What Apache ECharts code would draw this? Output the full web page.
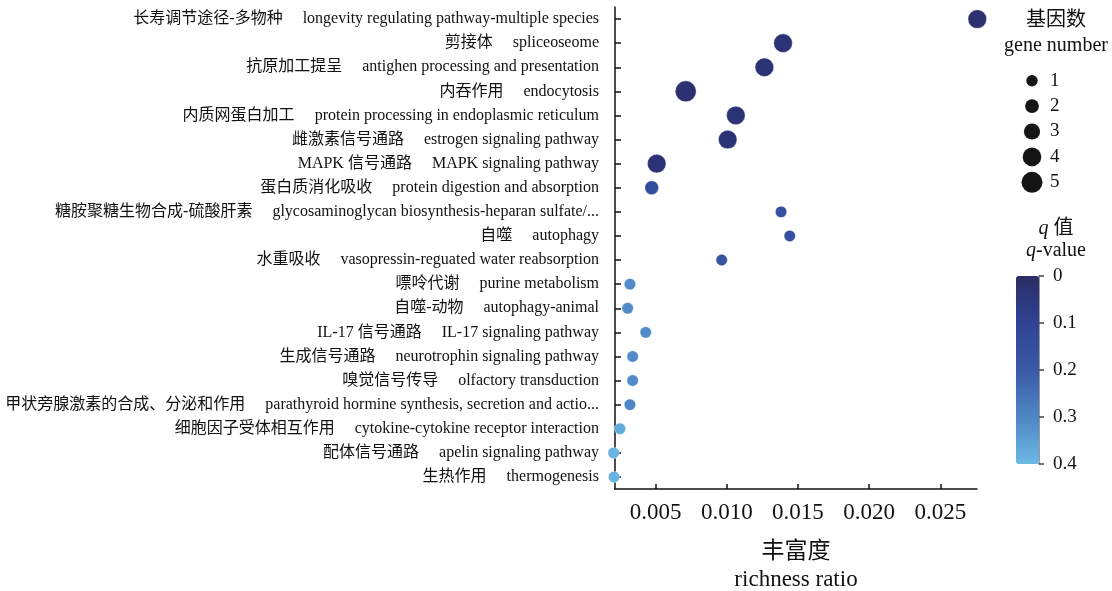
<!DOCTYPE html>
<html>
<head>
<meta charset="utf-8">
<script src="https://cdn.jsdelivr.net/npm/echarts@6/dist/echarts.min.js"></script>
<style>
html,body{margin:0;padding:0;background:#fff;}
#chart{width:1112px;height:591px;}
</style>
</head>
<body>
<div id="chart"></div>
<script>
const pathwaysCn = ['长寿调节途径-多物种','剪接体','抗原加工提呈','内吞作用','内质网蛋白加工','雌激素信号通路','MAPK 信号通路','蛋白质消化吸收','糖胺聚糖生物合成-硫酸肝素','自噬','水重吸收','嘌呤代谢','自噬-动物','IL-17 信号通路','生成信号通路','嗅觉信号传导','甲状旁腺激素的合成、分泌和作用','细胞因子受体相互作用','配体信号通路','生热作用'];
const pathwaysEn = ['longevity regulating pathway-multiple species','spliceoseome','antighen processing and presentation','endocytosis','protein processing in endoplasmic reticulum','estrogen signaling pathway','MAPK signaling pathway','protein digestion and absorption','glycosaminoglycan biosynthesis-heparan sulfate/...','autophagy','vasopressin-reguated water reabsorption','purine metabolism','autophagy-animal','IL-17 signaling pathway','neurotrophin signaling pathway','olfactory transduction','parathyroid hormine synthesis, secretion and actio...','cytokine-cytokine receptor interaction','apelin signaling pathway','thermogenesis'];
const richness = [0.0276,0.01395,0.01264,0.00711,0.01063,0.01006,0.00507,0.00472,0.01381,0.01442,0.00964,0.00319,0.00303,0.0043,0.00338,0.00338,0.00319,0.00249,0.00204,0.00207];
const qValues = [0.02,0.03,0.03,0.02,0.03,0.03,0.03,0.14,0.16,0.16,0.17,0.31,0.31,0.31,0.31,0.31,0.30,0.37,0.39,0.39];
const geneNumbers = [4,4,4,5,4,4,4,2,1,1,1,1,1,1,1,1,1,1,1,1];
const geneLegend = [1,2,3,4,5];
const qTicks = [0,0.1,0.2,0.3,0.4];

const FONT = "'Liberation Serif','Noto Sans CJK SC',serif";
const sizeOf = n => 9 + 2.4 * n;

const chart = echarts.init(document.getElementById('chart'));
const mainData = pathwaysEn.map((en, i) => [richness[i], i, qValues[i], geneNumbers[i]]);

chart.setOption({
  animation: false,
  backgroundColor: '#fff',
  grid: [
    {left: 615, top: 7, right: 135, bottom: 102, outerBoundsMode: 'none', containLabel: false},
    {left: 1039, top: 276, width: 0, height: 188, outerBoundsMode: 'none', containLabel: false},
    {left: 1022, top: 68, width: 20, height: 127, outerBoundsMode: 'none', containLabel: false}
  ],
  xAxis: [
    {
      type: 'value', gridIndex: 0,
      min: 0.00214, max: 0.02758, splitNumber: 5,
      splitLine: {show: false},
      axisLine: {show: true, lineStyle: {color: '#111', width: 1.5}},
      axisTick: {show: true, inside: true, length: 5, lineStyle: {color: '#111', width: 1.5}},
      axisLabel: {
        showMinLabel: false, showMaxLabel: false, margin: 12,
        fontFamily: FONT, fontSize: 23, color: '#111',
        formatter: v => v.toFixed(3)
      },
      name: '丰富度\nrichness ratio',
      nameLocation: 'middle', nameGap: 49,
      nameTextStyle: {fontFamily: FONT, fontSize: 23, color: '#111', lineHeight: 28}
    },
    {type: 'value', gridIndex: 1, show: false, min: 0, max: 1},
    {type: 'category', gridIndex: 2, show: false, data: ['']}
  ],
  yAxis: [
    {
      type: 'category', gridIndex: 0, inverse: true,
      data: pathwaysEn.map((en, i) => i),
      axisLine: {show: true, lineStyle: {color: '#111', width: 1.5}},
      axisTick: {show: true, inside: true, length: 6, alignWithLabel: true, lineStyle: {color: '#111', width: 1.5}},
      axisLabel: {
        margin: 16, fontFamily: FONT, fontSize: 16, color: '#111',
        formatter: (v) => pathwaysCn[+v] + '     ' + pathwaysEn[+v]
      },
      splitLine: {show: false}
    },
    {
      type: 'value', gridIndex: 1, position: 'right', inverse: true,
      min: 0, max: 0.4, interval: 0.1,
      splitLine: {show: false},
      axisLine: {show: true, lineStyle: {color: '#777', width: 1.5}},
      axisTick: {show: true, length: 5, lineStyle: {color: '#444', width: 1.5}},
      axisLabel: {margin: 14, fontFamily: FONT, fontSize: 19, color: '#111',
        formatter: v => qTicks.includes(+v.toFixed(1)) ? String(+v.toFixed(1)) : ''}
    },
    {
      type: 'category', gridIndex: 2, position: 'right', inverse: true,
      data: geneLegend.map(String),
      axisLine: {show: false}, axisTick: {show: false},
      axisLabel: {margin: 8, fontFamily: FONT, fontSize: 19, color: '#111'}
    }
  ],
  visualMap: {
    type: 'continuous', seriesIndex: 0, dimension: 2,
    min: 0, max: 0.4, inverse: true, calculable: false,
    orient: 'vertical', left: 1016, top: 276, padding: 0,
    itemWidth: 23, itemHeight: 188, text: null, showLabel: false,
    inRange: {color: ['#2b2d66', '#2f4293', '#3a5aa7', '#4f86c4', '#6cb9e5']}
  },
  series: [
    {
      type: 'scatter', xAxisIndex: 0, yAxisIndex: 0, clip: false,
      data: mainData,
      symbolSize: d => sizeOf(d[3]),
      itemStyle: {opacity: 1, borderColor: 'rgba(255,255,255,0.35)', borderWidth: 1}
    },
    {
      type: 'scatter', xAxisIndex: 2, yAxisIndex: 2,
      data: geneLegend.map(n => ['', String(n), n]),
      symbolSize: d => sizeOf(d[2]),
      itemStyle: {color: '#151515', opacity: 1}
    }
  ],
  graphic: [
    {type: 'text', x: 1056, y: 21, style: {text: '基因数', font: '20px ' + FONT, fill: '#111', align: 'center', verticalAlign: 'middle'}},
    {type: 'text', x: 1056, y: 46, style: {text: 'gene number', font: '20px ' + FONT, fill: '#111', align: 'center', verticalAlign: 'middle'}},
    {type: 'text', x: 1056, y: 229, style: {text: '{i|q} 值', font: '20px ' + FONT, fill: '#111', align: 'center', verticalAlign: 'middle',
      rich: {i: {fontStyle: 'italic', fontSize: 20, fontFamily: 'Liberation Serif'}}}},
    {type: 'text', x: 1056, y: 251, style: {text: '{i|q}-value', font: '20px ' + FONT, fill: '#111', align: 'center', verticalAlign: 'middle',
      rich: {i: {fontStyle: 'italic', fontSize: 20, fontFamily: 'Liberation Serif'}}}}
  ]
});
</script>
</body>
</html>
